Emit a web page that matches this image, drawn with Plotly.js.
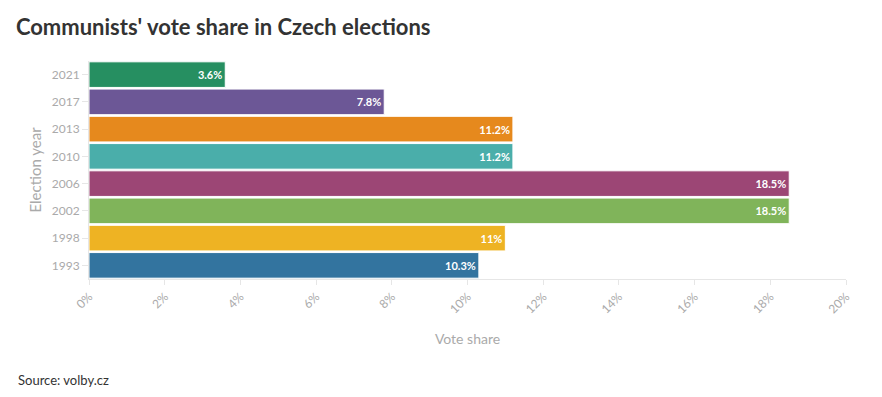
<!DOCTYPE html>
<html>
<head>
<meta charset="utf-8">
<script src="https://cdn.plot.ly/plotly-3.0.1.min.js"></script>
<style>
html,body{margin:0;padding:0;background:#fff;}
#chart{width:882px;height:397px;}
</style>
</head>
<body>
<div id="chart"></div>
<script>
const years = ["1993", "1998", "2002", "2006", "2010", "2013", "2017", "2021"];
const voteShare = [10.3, 11, 18.5, 18.5, 11.2, 11.2, 7.8, 3.6];
const barColors = ["#33749f", "#eeb323", "#80b45a", "#9c4675", "#4aaeaa", "#e6891d", "#6c5796", "#268f61"];
const xTicks = [0, 2, 4, 6, 8, 10, 12, 14, 16, 18, 20];

const trace = {
  type: "bar",
  orientation: "h",
  y: years,
  x: voteShare,
  marker: {color: barColors, line: {color: "#ffffff", width: 1}},
  text: voteShare.map(v => v + "%"),
  textposition: "inside",
  insidetextanchor: "end",
  textfont: {family: "Lato, 'Open Sans', sans-serif", size: 11, color: "#ffffff", weight: 700},
  hoverinfo: "none",
  cliponaxis: false
};

const layout = {
  width: 882,
  height: 397,
  margin: {l: 89, r: 36, t: 61, b: 118},
  paper_bgcolor: "#ffffff",
  plot_bgcolor: "#ffffff",
  bargap: 0.06,
  showlegend: false,
  font: {family: "Lato, 'Open Sans', sans-serif", color: "#aaaaaa"},
  title: {
    text: "<b>Communists' vote share in Czech elections</b>",
    x: 0.018, xanchor: "left", y: 0.93, yanchor: "middle",
    font: {family: "Lato, 'Open Sans', sans-serif", size: 22, color: "#333333"}
  },
  xaxis: {
    range: [0, 20],
    tickvals: xTicks,
    ticktext: xTicks.map(t => t + "%"),
    tickangle: -45,
    tickfont: {size: 12, color: "#aaaaaa"},
    showgrid: false,
    zeroline: false,
    showline: true,
    linecolor: "#e6e6e6",
    linewidth: 1,
    ticks: "outside",
    ticklen: 5,
    tickcolor: "#e6e6e6",
    title: {text: "Vote share", font: {size: 14, color: "#aaaaaa"}, standoff: 18},
    fixedrange: true
  },
  yaxis: {
    type: "category",
    tickfont: {size: 12, color: "#aaaaaa"},
    showgrid: false,
    zeroline: false,
    showline: true,
    linecolor: "#e6e6e6",
    ticks: "outside",
    ticklen: 6,
    tickcolor: "#e6e6e6",
    title: {text: "Election year", font: {size: 15, color: "#aaaaaa"}, standoff: 6},
    fixedrange: true
  },
  annotations: [{
    text: "Source: volby.cz",
    xref: "paper", yref: "paper",
    x: -0.0964, xanchor: "left",
    y: -0.463, yanchor: "middle",
    showarrow: false,
    font: {family: "Lato, 'Open Sans', sans-serif", size: 13, color: "#333333"}
  }]
};

Plotly.newPlot("chart", [trace], layout, {displayModeBar: false, staticPlot: true});
</script>
</body>
</html>
